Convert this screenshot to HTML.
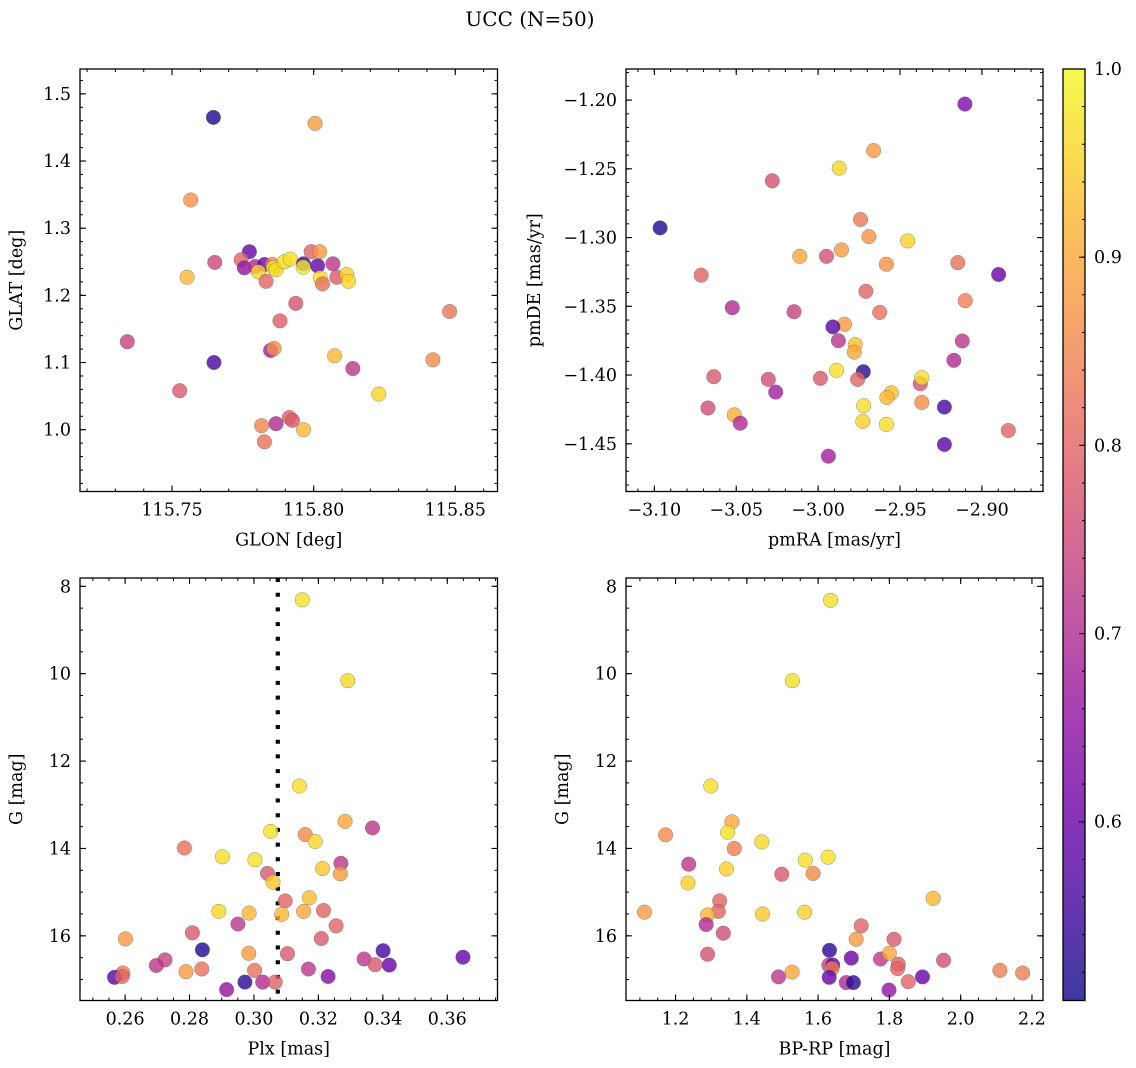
<!DOCTYPE html>
<html><head><meta charset="utf-8"><title>UCC (N=50)</title>
<style>
html,body{margin:0;padding:0;background:#fff;}
svg{display:block;font-family:"DejaVu Serif","Liberation Serif",serif;}
</style></head>
<body>
<svg id="fig" width="1136" height="1068" viewBox="0 0 1136 1068" xmlns="http://www.w3.org/2000/svg">
<text x="530" y="26" text-anchor="middle" font-size="20">UCC (N=50)</text>
</svg>
<script>
// ---- Panel 1: GLON vs GLAT ----
const p1Lon=[115.7646,115.8005,115.7566,115.7553,115.7651,115.7773,115.7744,115.7755,115.7793,115.7826,115.7805,115.7854,115.7858,115.7867,115.7832,115.7896,115.7917,115.7964,115.7963,115.7991,115.8021,115.8014,115.8023,115.8031,115.8068,115.8082,115.8117,115.8123,115.7342,115.7937,115.7881,115.7848,115.7860,115.8480,115.7648,115.8074,115.8138,115.8421,115.7527,115.8230,115.7816,115.7826,115.7867,115.7914,115.7925,115.7964];
const p1Lat=[1.465,1.456,1.342,1.227,1.249,1.265,1.253,1.241,1.243,1.246,1.235,1.246,1.241,1.238,1.221,1.250,1.254,1.247,1.242,1.265,1.265,1.244,1.226,1.217,1.247,1.227,1.231,1.221,1.131,1.188,1.162,1.118,1.121,1.176,1.100,1.110,1.091,1.104,1.058,1.053,1.006,0.982,1.009,1.018,1.014,1.000];
const p1C=[0.52,0.88,0.87,0.92,0.75,0.6,0.8,0.66,0.7,0.6,0.96,0.85,0.98,0.96,0.8,0.97,0.97,0.55,0.98,0.8,0.88,0.6,0.97,0.82,0.72,0.78,0.95,0.96,0.74,0.77,0.79,0.68,0.87,0.83,0.56,0.92,0.72,0.86,0.78,0.96,0.85,0.82,0.7,0.8,0.78,0.92];
// ---- Panel 2: pmRA vs pmDE ----
const p2RA=[-2.9104,-2.9661,-2.9871,-3.0280,-3.0965,-2.9741,-2.9690,-2.9453,-3.0112,-2.9949,-2.9857,-2.9584,-2.9147,-3.0714,-2.8898,-2.9708,-2.9102,-3.0524,-3.0147,-2.9624,-2.9839,-2.9910,-2.9876,-2.9120,-2.9773,-2.9780,-2.9171,-2.9888,-2.9724,-3.0637,-3.0304,-2.9986,-2.9759,-2.9376,-2.9367,-3.0259,-2.9553,-2.9580,-2.9367,-2.9722,-3.0673,-2.9229,-3.0512,-3.0476,-2.9727,-2.9584,-2.8839,-2.9229,-2.9937];
const p2DE=[-1.2029,-1.2367,-1.2495,-1.2587,-1.2930,-1.2869,-1.2993,-1.3024,-1.3136,-1.3136,-1.3090,-1.3194,-1.3182,-1.3274,-1.3269,-1.3391,-1.3459,-1.3510,-1.3539,-1.3544,-1.3631,-1.3650,-1.3750,-1.3752,-1.3779,-1.3833,-1.3893,-1.3966,-1.3976,-1.4012,-1.4032,-1.4024,-1.4032,-1.4063,-1.4019,-1.4124,-1.4129,-1.4163,-1.4199,-1.4223,-1.4240,-1.4233,-1.4289,-1.4350,-1.4337,-1.4359,-1.4403,-1.4505,-1.4590];
const p2C=[0.63,0.88,0.96,0.77,0.52,0.83,0.87,0.95,0.9,0.77,0.88,0.87,0.82,0.8,0.6,0.8,0.84,0.7,0.74,0.82,0.88,0.58,0.72,0.72,0.93,0.9,0.7,0.97,0.53,0.78,0.76,0.78,0.8,0.77,0.97,0.68,0.93,0.92,0.86,0.97,0.76,0.56,0.91,0.7,0.95,0.97,0.8,0.58,0.68];
// ---- Panel 3: Plx vs G ----
const p3Plx=[0.3150,0.3291,0.3141,0.3283,0.3368,0.3052,0.3159,0.3190,0.2784,0.2902,0.3003,0.3270,0.3213,0.3042,0.3268,0.3059,0.3097,0.3172,0.2891,0.2985,0.3086,0.3154,0.3216,0.2950,0.3255,0.2809,0.2601,0.3209,0.2840,0.3401,0.2984,0.3104,0.3649,0.3342,0.2724,0.2697,0.3376,0.3420,0.3169,0.2838,0.3002,0.2789,0.2593,0.2567,0.2591,0.3230,0.2972,0.3027,0.3066,0.2915];
const p3G=[8.31,10.16,12.57,13.38,13.53,13.61,13.68,13.84,13.99,14.19,14.26,14.34,14.46,14.57,14.58,14.77,15.20,15.13,15.44,15.48,15.51,15.44,15.42,15.73,15.77,15.93,16.07,16.06,16.32,16.34,16.40,16.41,16.49,16.53,16.55,16.68,16.66,16.67,16.76,16.76,16.79,16.82,16.85,16.95,16.93,16.93,17.06,17.06,17.06,17.23];
const p3C=[0.97,0.96,0.97,0.9,0.72,0.97,0.86,0.96,0.82,0.97,0.97,0.72,0.94,0.78,0.88,0.94,0.8,0.93,0.96,0.92,0.92,0.9,0.8,0.72,0.8,0.78,0.88,0.78,0.52,0.56,0.88,0.78,0.6,0.72,0.74,0.72,0.78,0.6,0.72,0.82,0.82,0.88,0.84,0.58,0.8,0.64,0.53,0.7,0.8,0.66];
const plxLine=[0.3074];
// ---- Panel 4: BP-RP vs G ----
const p4BR=[1.635,1.528,1.299,1.358,1.172,1.346,1.442,1.365,1.237,1.564,1.628,1.343,1.498,1.586,1.235,1.324,1.923,1.113,1.320,1.290,1.444,1.562,1.286,1.334,1.721,1.707,1.813,1.290,1.632,1.693,1.775,1.800,1.952,1.630,1.641,1.825,1.823,1.639,1.527,1.489,1.631,1.679,1.699,1.853,1.893,1.799,2.110,2.174];
const p4G=[8.32,10.16,12.57,13.39,13.69,13.63,13.85,14.00,14.36,14.27,14.20,14.47,14.59,14.57,14.79,15.20,15.14,15.46,15.44,15.52,15.50,15.46,15.74,15.94,15.77,16.08,16.08,16.42,16.33,16.51,16.53,16.40,16.56,16.67,16.67,16.65,16.75,16.75,16.83,16.94,16.95,17.07,17.07,17.05,16.94,17.24,16.79,16.85];
const p4C=[0.97,0.97,0.97,0.9,0.86,0.97,0.96,0.84,0.72,0.97,0.97,0.95,0.78,0.86,0.95,0.8,0.92,0.88,0.8,0.92,0.94,0.95,0.7,0.76,0.8,0.88,0.78,0.77,0.53,0.6,0.72,0.9,0.76,0.74,0.6,0.8,0.8,0.84,0.9,0.72,0.6,0.7,0.53,0.8,0.6,0.66,0.84,0.84];
// ---- ticks ----
const p1XTicks=[115.75,115.80,115.85], p1YTicks=[1.0,1.1,1.2,1.3,1.4,1.5];
const p2XTicks=[-3.10,-3.05,-3.00,-2.95,-2.90], p2YTicks=[-1.45,-1.40,-1.35,-1.30,-1.25,-1.20];
const p3XTicks=[0.26,0.28,0.30,0.32,0.34,0.36], gTicks=[8,10,12,14,16];
const p4XTicks=[1.2,1.4,1.6,1.8,2.0,2.2];
const cbTicks=[0.6,0.7,0.8,0.9,1.0];
const cMin=0.505, cMax=1.0;

const NS="http://www.w3.org/2000/svg";
const svg=document.getElementById('fig');
const FS=17.5;
function mk(tag,attrs,parent){const e=document.createElementNS(NS,tag);for(const k in attrs)e.setAttribute(k,attrs[k]);(parent||svg).appendChild(e);return e;}
const PL=[[13,8,135],[65,4,157],[106,0,168],[143,13,164],[177,42,144],[204,71,120],[225,100,98],[242,132,75],[252,166,54],[252,206,37],[240,249,33]];
function plasma(t){t=Math.max(0,Math.min(1,t));const s=t*10,i=Math.min(9,Math.floor(s)),f=s-i;const a=PL[i],b=PL[i+1];return 'rgb('+[0,1,2].map(k=>Math.round(a[k]+(b[k]-a[k])*f)).join(',')+')';}
function cnorm(c){return (c-cMin)/(cMax-cMin);}
function fmt(v,d){const s=Math.abs(v).toFixed(d);return (v<0?'\u2212':'')+s;}

function panel(o){
  const g=mk('g',{});
  
  
  const X=v=>o.x0+(v-o.xl[0])/(o.xl[1]-o.xl[0])*(o.x1-o.x0);
  const Y=o.inv?(v=>o.y0+(v-o.yl[0])/(o.yl[1]-o.yl[0])*(o.y1-o.y0)):(v=>o.y1-(v-o.yl[0])/(o.yl[1]-o.yl[0])*(o.y1-o.y0));
  const cid='clip'+o.name;
  const cp=mk('clipPath',{id:cid},g);mk('rect',{x:o.x0,y:o.y0,width:o.x1-o.x0,height:o.y1-o.y0},cp);
  const pg=mk('g',{'clip-path':'url(#'+cid+')'},g);
  if(o.vline){for(const v of o.vline){const l=mk('line',{x1:X(v),x2:X(v),y1:o.y0,y2:o.y1,stroke:'#000','stroke-width':4.2,'stroke-dasharray':'4 10.7'},pg);
    
    }}
  for(let i=0;i<o.xs.length;i++){
    const c=mk('circle',{cx:X(o.xs[i]).toFixed(1),cy:Y(o.ys[i]).toFixed(1),r:7.3,fill:plasma(cnorm(o.cs[i])),'fill-opacity':0.8,stroke:'#666','stroke-width':0.5,'stroke-opacity':0.7},pg);
    
    
  }
  const fr=mk('rect',{x:o.x0,y:o.y0,width:o.x1-o.x0,height:o.y1-o.y0,fill:'none',stroke:'#000','stroke-width':1.3},g);
  
  
  const mt=(a,b,step)=>{const r=[];const s=Math.ceil(a/step-1e-6);for(let k=s;k*step<=b+1e-9;k++)r.push(k*step);return r;};
  for(const v of mt(o.xl[0],o.xl[1],o.xm)){const x=X(v);mk('line',{x1:x,x2:x,y1:o.y1,y2:o.y1-3,stroke:'#000','stroke-width':1},g);mk('line',{x1:x,x2:x,y1:o.y0,y2:o.y0+3,stroke:'#000','stroke-width':1},g);}
  for(const v of mt(Math.min(...o.yl),Math.max(...o.yl),o.ym)){const y=Y(v);mk('line',{x1:o.x0,x2:o.x0+3,y1:y,y2:y,stroke:'#000','stroke-width':1},g);mk('line',{x1:o.x1,x2:o.x1-3,y1:y,y2:y,stroke:'#000','stroke-width':1},g);}
  for(const v of o.xt){const x=X(v);mk('line',{x1:x,x2:x,y1:o.y1,y2:o.y1-6,stroke:'#000','stroke-width':1.1},g);mk('line',{x1:x,x2:x,y1:o.y0,y2:o.y0+6,stroke:'#000','stroke-width':1.1},g);
    const t=mk('text',{x:x,y:o.y1+24,'text-anchor':'middle','font-size':FS},g);t.textContent=fmt(v,o.xd);
    
    }
  for(const v of o.yt){const y=Y(v);mk('line',{x1:o.x0,x2:o.x0+6,y1:y,y2:y,stroke:'#000','stroke-width':1.1},g);mk('line',{x1:o.x1,x2:o.x1-6,y1:y,y2:y,stroke:'#000','stroke-width':1.1},g);
    const t=mk('text',{x:o.x0-9,y:y+6,'text-anchor':'end','font-size':FS},g);t.textContent=fmt(v,o.yd);
    
    }
  const xl=mk('text',{x:(o.x0+o.x1)/2,y:o.y1+54,'text-anchor':'middle','font-size':FS},g);xl.textContent=o.xlab;
  
  
  const yx=o.x0-o.ylo, yy=(o.y0+o.y1)/2;
  const yl=mk('text',{x:yx,y:yy,'text-anchor':'middle','font-size':FS,transform:'rotate(-90 '+yx+' '+yy+')'},g);yl.textContent=o.ylab;
  
  
}
panel({name:'panel-glon-glat',x0:80,x1:497.5,y0:69,y1:491.5,xl:[115.7175,115.8649],yl:[0.908,1.537],xt:p1XTicks,yt:p1YTicks,xm:0.01,ym:0.02,xd:2,yd:1,xs:p1Lon,ys:p1Lat,cs:p1C,xlab:'GLON [deg]',ylab:'GLAT [deg]',ylo:58});
panel({name:'panel-pmra-pmde',x0:626,x1:1043,y0:69,y1:491.5,xl:[-3.1173,-2.8627],yl:[-1.4847,-1.1774],xt:p2XTicks,yt:p2YTicks,xm:0.01,ym:0.01,xd:2,yd:2,xs:p2RA,ys:p2DE,cs:p2C,xlab:'pmRA [mas/yr]',ylab:'pmDE [mas/yr]',ylo:86});
panel({name:'panel-plx-g',x0:80,x1:497.5,y0:578,y1:1000.5,xl:[0.2460,0.3756],yl:[7.81,17.48],inv:true,xt:p3XTicks,yt:gTicks,xm:0.005,ym:0.5,xd:2,yd:0,xs:p3Plx,ys:p3G,cs:p3C,vline:plxLine,xlab:'Plx [mas]',ylab:'G [mag]',ylo:58});
panel({name:'panel-bprp-g',x0:626,x1:1043,y0:578,y1:1000.5,xl:[1.061,2.231],yl:[7.81,17.48],inv:true,xt:p4XTicks,yt:gTicks,xm:0.05,ym:0.5,xd:1,yd:0,xs:p4BR,ys:p4G,cs:p4C,xlab:'BP-RP [mag]',ylab:'G [mag]',ylo:58});

(function(){
  const cx0=1063,cx1=1085,cy0=69,cy1=1000.5;
  const g=mk('g',{});
  
  
  const defs=mk('defs',{},g);
  const lg=mk('linearGradient',{id:'cbgrad',x1:0,y1:1,x2:0,y2:0},defs);
  for(let i=0;i<=20;i++){mk('stop',{offset:(i/20),'stop-color':plasma(i/20)},lg);}
  mk('rect',{x:cx0,y:cy0,width:cx1-cx0,height:cy1-cy0,fill:'url(#cbgrad)','fill-opacity':0.8},g);
  mk('rect',{x:cx0,y:cy0,width:cx1-cx0,height:cy1-cy0,fill:'none',stroke:'#000','stroke-width':1.3},g);
  const Y=v=>cy1-(v-cMin)/(cMax-cMin)*(cy1-cy0);
  for(let k=26;k<=50;k++){const v=k*0.02;if(v<cMin||v>cMax+1e-9)continue;const y=Y(v);mk('line',{x1:cx1,x2:cx1-3,y1:y,y2:y,stroke:'#000','stroke-width':1},g);}
  for(const v of cbTicks){const y=Y(v);mk('line',{x1:cx1,x2:cx1-6,y1:y,y2:y,stroke:'#000','stroke-width':1.1},g);
    const t=mk('text',{x:cx1+9,y:y+6,'font-size':FS},g);t.textContent=v.toFixed(1);
    
    }
})();
</script>
</body></html>
